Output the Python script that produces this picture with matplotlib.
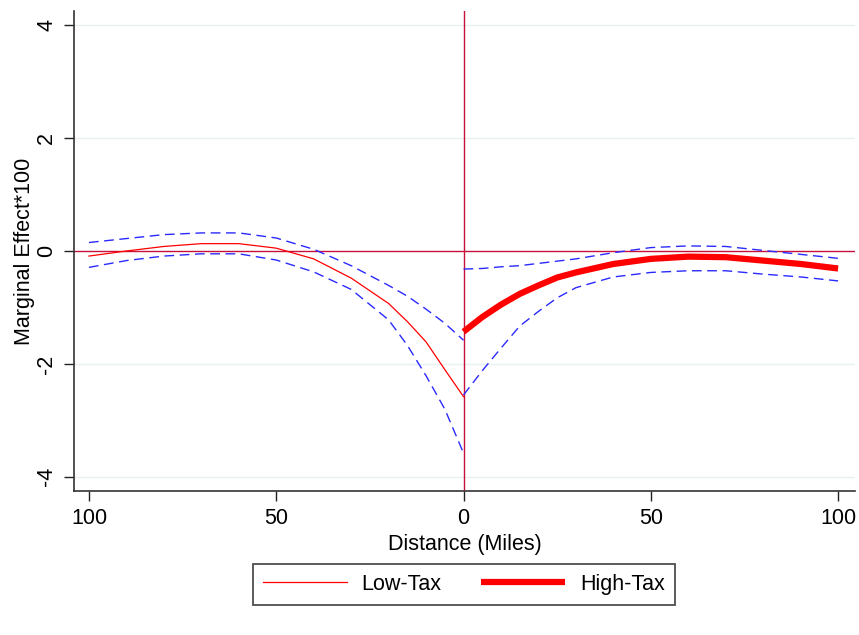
import matplotlib
matplotlib.use("Agg")
import matplotlib.pyplot as plt
from matplotlib.ticker import FuncFormatter

plt.rcParams["font.family"] = ["Liberation Sans", "DejaVu Sans"]
plt.rcParams["axes.unicode_minus"] = False

# Low-tax side (negative distance) and high-tax side (positive distance)
low_dist = [-100, -90, -80, -70, -60, -50, -40, -30, -20, -15, -10, -5, 0]
low_effect = [-0.09, 0.00, 0.08, 0.13, 0.13, 0.05, -0.14, -0.48, -0.93, -1.25, -1.61, -2.10, -2.58]
low_upper = [0.15, 0.22, 0.29, 0.32, 0.32, 0.23, 0.03, -0.26, -0.61, -0.80, -1.03, -1.28, -1.58]
low_lower = [-0.29, -0.17, -0.09, -0.05, -0.05, -0.16, -0.37, -0.68, -1.22, -1.67, -2.21, -2.80, -3.58]

high_dist = [0, 5, 10, 15, 20, 25, 30, 40, 50, 60, 70, 80, 90, 100]
high_effect = [-1.43, -1.17, -0.95, -0.76, -0.61, -0.47, -0.38, -0.23, -0.14, -0.10, -0.11, -0.17, -0.23, -0.31]
high_upper = [-0.32, -0.31, -0.28, -0.26, -0.22, -0.18, -0.14, -0.03, 0.06, 0.09, 0.08, 0.01, -0.06, -0.13]
high_lower = [-2.55, -2.12, -1.72, -1.33, -1.07, -0.83, -0.65, -0.46, -0.38, -0.35, -0.35, -0.41, -0.46, -0.53]

x_ticks = [-100, -50, 0, 50, 100]
y_ticks = [-4, -2, 0, 2, 4]

RED = "#ff0000"
BLUE = "#2a2aff"
REF = "#c8103c"
FS = 15.5

fig = plt.figure(figsize=(8.59, 6.35), dpi=100)
ax = fig.add_axes([0.0861, 0.2268, 0.9092, 0.7559])

for y in y_ticks:
    if y != 0:
        ax.axhline(y, color="#e8f0f4", lw=1.0, zorder=0)
ax.axhline(0, color=REF, lw=1.0, zorder=1)
ax.axvline(0, color=REF, lw=1.0, zorder=1)

dash = (0, (7, 4))
ax.plot(low_dist, low_upper, color=BLUE, lw=1.0, ls=dash, zorder=2)
ax.plot(low_dist, low_lower, color=BLUE, lw=1.0, ls=dash, zorder=2)
ax.plot(high_dist, high_upper, color=BLUE, lw=1.0, ls=dash, zorder=2)
ax.plot(high_dist, high_lower, color=BLUE, lw=1.0, ls=dash, zorder=2)

low_line, = ax.plot(low_dist, low_effect, color=RED, lw=0.9, zorder=3, label="Low-Tax")
high_line, = ax.plot(high_dist, high_effect, color=RED, lw=4.5, zorder=3,
                     solid_capstyle="butt", label="High-Tax")

ax.set_xlim(-104, 104.5)
ax.set_ylim(-4.25, 4.25)
ax.set_xticks(x_ticks)
ax.set_yticks(y_ticks)
ax.xaxis.set_major_formatter(FuncFormatter(lambda v, _: f"{abs(v):g}"))
ax.tick_params(axis="both", length=7, width=1.0, color="#222222", labelsize=FS, pad=5)
for lab in ax.get_yticklabels():
    lab.set_rotation(90)
    lab.set_va("center")

ax.spines[["top", "right"]].set_visible(False)
ax.spines[["left", "bottom"]].set_color("#333333")
ax.spines[["left", "bottom"]].set_linewidth(1.2)

ax.set_xlabel("Distance (Miles)", fontsize=FS, labelpad=4)
ax.set_ylabel("Marginal Effect*100", fontsize=FS, labelpad=1)

leg = fig.legend(handles=[low_line, high_line], loc="center", bbox_to_anchor=(0.54, 0.0795),
                 ncol=2, fontsize=FS, frameon=True, fancybox=False, handlelength=3.9,
                 handletextpad=0.7, columnspacing=1.85, borderpad=0.45)
leg.get_frame().set_edgecolor("#222222")
leg.get_frame().set_linewidth(1.3)

fig.savefig("out.png", dpi=100, facecolor="white")
